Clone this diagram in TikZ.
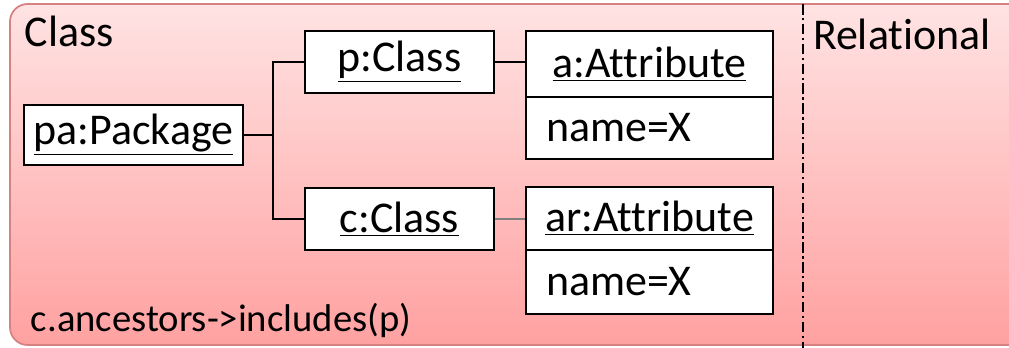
\documentclass[tikz,border=0pt]{standalone}
\usepackage{fontspec}
\setmainfont[Ligatures=NoCommon]{Carlito}
\usetikzlibrary{shapes}
\usetikzlibrary{positioning}
\newcommand\objfont{\fontsize{25}{29}\selectfont}
\newcommand\oclfont{\fontsize{22}{27}\selectfont}
\definecolor{panelline}{RGB}{214,130,130}

\begin{document}
\begin{tikzpicture}[x=0.02cm,y=-0.02cm,
            line width=1.3pt,
            obj/.style = {draw,fill=white,font=\objfont,inner xsep=0pt,inner ysep=0pt},
            attr/.style = {obj,minimum width=4.94cm,text width=4.14cm,align=left},
            link/.style = {-,line width=1.3pt}]
    \useasboundingbox (0,0) rectangle (1009,348);
    % panel
    \draw[panelline,line width=1pt,rounded corners=10pt,top color=red!11,bottom color=red!37]
        (10,4) rectangle (1040,345);
    \node[anchor=west,font=\objfont] (lclass) at (18,31) {Class};
    \node[anchor=west,font=\objfont] (lrel) at (806,34) {Relational};
    \node[anchor=west,font=\oclfont] (ocl) at (24,320) {c.ancestors->includes(p)};
    \coordinate (divtop) at (803,4);
    \coordinate (divbot) at (803,348);
    \draw[line width=1.3pt,dash pattern=on 6pt off 2pt on 1.3pt off 2pt] (divtop) -- (divbot);
    % objects
    \node[obj,minimum width=4.38cm,minimum height=1.2cm] (pa) at (133.5,135) {\underline{pa:Package}};
    \node[obj,minimum width=3.78cm,minimum height=1.24cm] (p) at (399.5,62) {\underline{p:Class}};
    \node[obj,minimum width=3.78cm,minimum height=1.24cm] (c) at (399.5,219) {\underline{c:Class}};
    \node[obj,minimum width=4.94cm,minimum height=1.32cm] (ahead) at (649.5,64) {\underline{a:Attribute}};
    \node[attr,minimum height=1.24cm,below=-1.3pt of ahead] (aval) {name=X};
    \node[obj,minimum width=4.94cm,minimum height=1.26cm] (arhead) at (649.5,218.5) {\underline{ar:Attribute}};
    \node[attr,minimum height=1.28cm,below=-1.3pt of arhead] (arval) {name=X};
    % links
    \coordinate (bus) at (273,135);
    \draw[link] (pa.east) -- (bus);
    \draw[link] (p.west) -| (bus) |- (c.west);
    \draw[link] (p.east) -- (p.east -| ahead.west);
    \draw[link,gray,line width=0.8pt] (c.east) -- (c.east -| arhead.west);
\end{tikzpicture}
\end{document}
